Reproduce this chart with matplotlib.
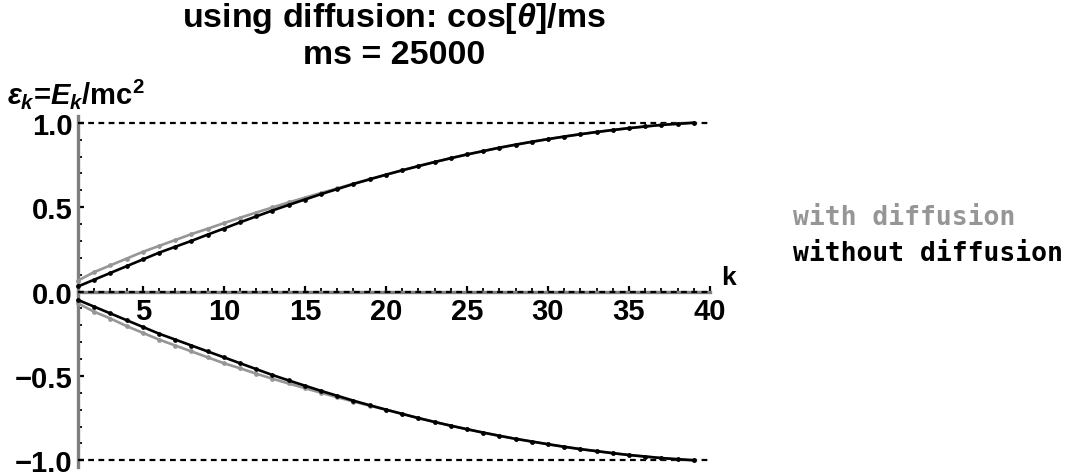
import matplotlib
matplotlib.use("Agg")
import matplotlib.pyplot as plt
from matplotlib.ticker import MultipleLocator, FixedLocator

# ---- data ----
k = list(range(1, 40))
without_upper = [0.03, 0.07, 0.11, 0.15, 0.19, 0.23, 0.265, 0.30, 0.337, 0.373,
                 0.41, 0.445, 0.48, 0.513, 0.545, 0.577, 0.607, 0.637, 0.665, 0.692,
                 0.718, 0.743, 0.767, 0.79, 0.812, 0.832, 0.852, 0.87, 0.887, 0.903,
                 0.918, 0.932, 0.945, 0.957, 0.968, 0.978, 0.987, 0.994, 1.0]
with_upper = [0.065, 0.115, 0.155, 0.195, 0.235, 0.27, 0.305, 0.34, 0.372, 0.405,
              0.437, 0.468, 0.498, 0.528, 0.556, 0.584, 0.611, 0.639, 0.665, 0.692,
              0.718, 0.743, 0.767, 0.79, 0.812, 0.832, 0.852, 0.87, 0.887, 0.903,
              0.918, 0.932, 0.945, 0.957, 0.968, 0.978, 0.987, 0.994, 1.0]
without_lower = [-0.05, -0.09, -0.13, -0.17, -0.21, -0.25, -0.285, -0.32, -0.355, -0.39,
                 -0.425, -0.46, -0.495, -0.527, -0.558, -0.589, -0.618, -0.647, -0.674, -0.70,
                 -0.725, -0.75, -0.773, -0.795, -0.816, -0.836, -0.855, -0.873, -0.889, -0.905,
                 -0.92, -0.934, -0.946, -0.958, -0.969, -0.978, -0.987, -0.994, -1.0]
with_lower = [-0.07, -0.12, -0.16, -0.205, -0.245, -0.285, -0.32, -0.355, -0.39, -0.425,
              -0.455, -0.487, -0.517, -0.545, -0.573, -0.60, -0.627, -0.652, -0.677, -0.70,
              -0.725, -0.75, -0.773, -0.795, -0.816, -0.836, -0.855, -0.873, -0.889, -0.905,
              -0.92, -0.934, -0.946, -0.958, -0.969, -0.978, -0.987, -0.994, -1.0]
grid_levels = [-1.0, 0.0, 1.0]
x_ticks = [5, 10, 15, 20, 25, 30, 35, 40]
y_ticks = [-1.0, -0.5, 0.0, 0.5, 1.0]
y_ticklabels = ["\u22121.0", "\u22120.5", "0.0", "0.5", "1.0"]
legend_labels = ["with diffusion", "without diffusion"]

# ---- style ----
plt.rcParams['font.family'] = ['Liberation Sans', 'DejaVu Sans']
plt.rcParams['font.weight'] = 'bold'
plt.rcParams['mathtext.fontset'] = 'custom'
plt.rcParams['mathtext.rm'] = 'Liberation Sans:bold'
plt.rcParams['mathtext.bf'] = 'Liberation Sans:bold'
plt.rcParams['mathtext.it'] = 'Liberation Sans:italic:bold'

GRAY = '#969696'
AXGRAY = '#7f7f7f'

W, H = 1072, 477
fig = plt.figure(figsize=(W / 100, H / 100), dpi=100)
left_px, right_px, top_px, bot_px = 78, 710, 117, 468
ax = fig.add_axes([left_px / W, (H - bot_px) / H, (right_px - left_px) / W, (bot_px - top_px) / H])
ax.set_xlim(1, 40)
ax.set_ylim(-1.04, 1.04)

for s in ['top', 'right']:
    ax.spines[s].set_visible(False)
ax.spines['bottom'].set_position(('data', 0))
ax.spines['left'].set_position(('data', 1))
for s in ['bottom', 'left']:
    ax.spines[s].set_color(AXGRAY)
    ax.spines[s].set_linewidth(2.4)

ax.xaxis.set_major_locator(FixedLocator(x_ticks))
ax.xaxis.set_minor_locator(MultipleLocator(1))
ax.yaxis.set_major_locator(FixedLocator(y_ticks))
ax.yaxis.set_minor_locator(MultipleLocator(0.1))
ax.set_yticklabels(y_ticklabels)
ax.tick_params(which='major', direction='in', length=4.5, width=1.6, color='black',
               labelsize=21, pad=4)
ax.tick_params(which='minor', direction='in', length=2.6, width=1.3, color='black')
for lab in ax.get_xticklabels() + ax.get_yticklabels():
    lab.set_fontweight('bold')

ax.hlines(grid_levels, 1, 40, colors='black', linestyles=(0, (2.6, 2.0)), linewidth=1.6, zorder=3)

ax.plot(k, with_upper, color=GRAY, lw=1.9, marker='o', ms=2.4, zorder=4, clip_on=False)
ax.plot(k, with_lower, color=GRAY, lw=1.9, marker='o', ms=2.4, zorder=4, clip_on=False)
ax.plot(k, without_upper, color='black', lw=1.9, marker='o', ms=2.4, zorder=5, clip_on=False)
ax.plot(k, without_lower, color='black', lw=1.9, marker='o', ms=2.4, zorder=5, clip_on=False)

ax.annotate('k', xy=(40, 0), xycoords='data', xytext=(8, 2), textcoords='offset points',
            ha='left', va='bottom', fontsize=19, fontweight='bold')

fig.text(7 / W, 1 - 94 / H, r'$\epsilon_k$=$E_k$/mc$^2$', ha='left', va='center', fontsize=21,
         fontweight='bold')

fig.text(394 / W, 1 - 36 / H, 'using diffusion: cos[$\\theta$]/ms\nms = 25000', ha='center',
         va='center', fontsize=24.5, fontweight='bold', linespacing=1.15)

fig.text(793 / W, 1 - 218 / H, legend_labels[0], ha='left', va='center', fontsize=19,
         fontweight='bold', family='DejaVu Sans Mono', color=GRAY)
fig.text(793 / W, 1 - 254 / H, legend_labels[1], ha='left', va='center', fontsize=19,
         fontweight='bold', family='DejaVu Sans Mono', color='black')

fig.savefig('out.png', dpi=100)
